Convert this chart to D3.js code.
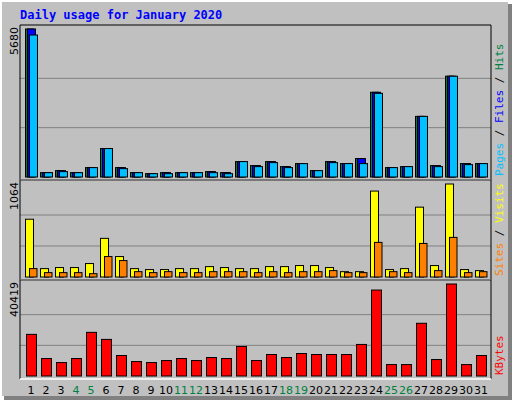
<!DOCTYPE html>
<html><head><meta charset="utf-8">
<script src="https://cdn.jsdelivr.net/npm/d3@7"></script>
<style>body{margin:0;background:#fff}</style></head>
<body><svg id="c" width="512" height="400"></svg>
<script>
const days = d3.range(1,32);
const weekend = [4,5,11,12,18,19,25,26];
const hits  = [5680,167,244,167,360,1092,360,167,128,167,167,167,206,167,591,437,591,398,514,244,591,514,707,3251,360,398,2326,437,3868,514,514];
const files = [5680,167,244,167,360,1092,360,167,128,167,167,167,206,167,591,437,591,398,514,244,591,514,707,3251,360,398,2326,437,3868,514,514];
const pages = [5449,167,206,167,360,1092,321,167,128,128,167,167,167,128,591,398,552,360,514,244,552,514,514,3212,360,398,2326,398,3868,475,514];
const visits= [661,96,108,108,154,442,234,96,85,85,96,96,119,108,96,96,119,119,131,131,108,61,61,983,85,96,799,131,1064,85,73];
const sites = [96,50,50,50,38,234,188,61,50,61,50,50,61,61,61,50,61,50,61,61,73,50,50,396,61,50,384,73,453,50,61];
const kbytes= [18290,7670,5900,7670,19175,16078,8998,6343,5900,6785,7670,6785,8113,7670,12980,6785,9440,8113,9883,9440,9440,9440,13865,37760,5015,5015,23158,7228,40419,5015,8998];
const maxHits=5680, maxVisits=1064, maxKB=40419;

const svg=d3.select("#c");
svg.append("rect").attr("x",0).attr("y",0).attr("width",512).attr("height",400).attr("fill","#fff");
svg.append("rect").attr("x",2).attr("y",2).attr("width",506).attr("height",394).attr("fill","#c0c0c0");
svg.append("rect").attr("x",508).attr("y",4).attr("width",4).attr("height",396).attr("fill","#808080");
svg.append("rect").attr("x",4).attr("y",396).attr("width",508).attr("height",4).attr("fill","#808080");
svg.append("text").attr("x",20).attr("y",19).attr("font-family","DejaVu Sans Mono").attr("font-weight","bold")
  .attr("font-size",12).attr("fill","#0000ff").text("Daily usage for January 2020");

const x=d3.scaleLinear().domain([1,2]).range([25,40]);
const L=20,R=491;
function panel(y0,y1,max,label,legend){
  const base=y1-3, top=y0+4;
  const y=d3.scaleLinear().domain([0,max]).range([base,top]);
  const g=svg.append("g");
  [1/3,2/3].forEach(f=>g.append("line").attr("x1",L).attr("x2",R).attr("y1",y(max*f)).attr("y2",y(max*f)).attr("stroke","#808080"));
  g.append("line").attr("x1",L).attr("x2",R).attr("y1",y0).attr("y2",y0).attr("stroke","#000");
  g.append("line").attr("x1",L).attr("x2",L).attr("y1",y0).attr("y2",y1).attr("stroke","#000");
  g.append("line").attr("x1",R).attr("x2",R).attr("y1",y0).attr("y2",y1).attr("stroke","#000");
  g.append("line").attr("x1",L).attr("x2",R).attr("y1",y1).attr("y2",y1).attr("stroke","#fff").attr("stroke-width",1.5);
  g.append("text").attr("transform",`translate(18,${y0+2}) rotate(-90)`).attr("text-anchor","end")
    .attr("font-family","DejaVu Sans").attr("font-size",11).attr("fill","#000").text(label);
  const t=g.append("text").attr("transform",`translate(503,${y1-4}) rotate(-90)`)
    .attr("font-family","DejaVu Sans Mono").attr("font-size",11);
  legend.forEach(([s,c])=>t.append("tspan").attr("fill",c).text(s));
  return y;
}
function bars(y,data,dx,w,color){
  svg.append("g").selectAll("rect").data(data).join("rect")
    .attr("x",(d,i)=>x(days[i])+dx).attr("y",d=>y(d)).attr("width",w).attr("height",d=>y(0)-y(d))
    .attr("fill",color).attr("stroke","#000").attr("stroke-width",1);
}
const y1=panel(25,180,maxHits,"5680",[["Pages","#00c0ff"],[" / ","#000"],["Files","#0000ff"],[" / ","#000"],["Hits","#008040"]]);
bars(y1,hits,0.5,8,"#008040");
bars(y1,files,2.5,8,"#0000ff");
bars(y1,pages,4.5,8,"#00c0ff");
const y2=panel(180,280,maxVisits,"1064",[["Sites","#ff8000"],[" / ","#000"],["Visits","#ffff00"]]);
bars(y2,visits,0.5,8,"#ffff00");
bars(y2,sites,4.5,7.5,"#ff8000");
const y3=panel(280,379,maxKB,"40419",[["KBytes","#ff0000"]]);
bars(y3,kbytes,1.5,10,"#ff0000");

svg.append("g").selectAll("text").data(days).join("text")
  .attr("x",d=>x(d)+6).attr("y",394).attr("text-anchor","middle")
  .attr("font-family","DejaVu Sans").attr("font-size",11)
  .attr("fill",d=>weekend.includes(d)?"#008040":"#000").text(d=>d);
</script></body></html>
